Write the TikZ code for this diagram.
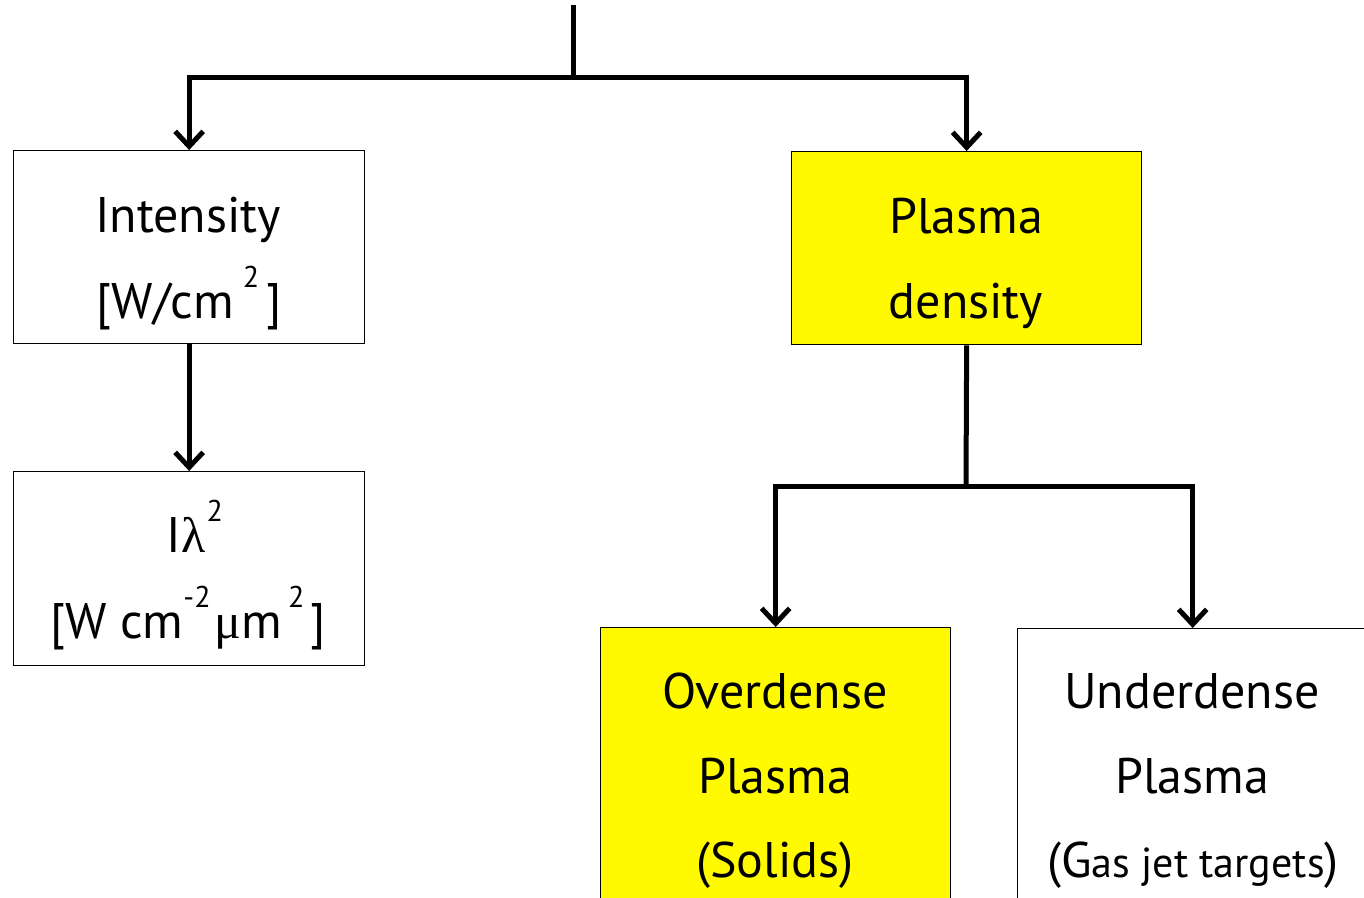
\documentclass[tikz,border=0pt]{standalone}
\usepackage{fontspec}
\setmainfont{PT Sans}
\newfontfamily\greekfont{Liberation Serif}
\usetikzlibrary{arrows.meta}
\definecolor{boxyellow}{RGB}{255,250,0}

\newcommand{\supnum}[1]{\raisebox{0.62em}{\fontsize{30}{30}\selectfont #1}}

\tikzset{
  box/.style={draw=black, line width=1.3pt, inner sep=0pt, anchor=north west},
  hibox/.style={box, fill=boxyellow},
  link/.style={line width=5pt, black},
  arrowlink/.style={link, -{Straight Barb[length=15pt, width=28pt]}},
  txt/.style={anchor=base, inner sep=0pt, font=\fontsize{50}{60}\selectfont}
}

\begin{document}
\begin{tikzpicture}[x=1pt, y=-1pt]
\useasboundingbox (0,0) rectangle (1364,897);
\clip (0,0) rectangle (1364,897);

% boxes
\node[box, minimum width=351pt, minimum height=193pt] (int) at (13,150) {};
\node[hibox, minimum width=350pt, minimum height=193pt] (pd) at (791,151) {};
\node[box, minimum width=351pt, minimum height=194pt] (ilam) at (13,471) {};
\node[hibox, minimum width=350pt, minimum height=300pt] (over) at (600,627) {};
\node[box, minimum width=350pt, minimum height=300pt] (under) at (1017,628) {};

% labels
\node[txt] (intA) at (188,232) {Intensity};
\node[txt] (intB) at (189,318) {[W/cm\hspace{9pt}\supnum{2}\hspace{7pt}]};
\node[txt] (pdA) at (966,233) {Plasma};
\node[txt] (pdB) at (966,318) {density};
\node[txt] (ilA) at (195,552) {I{\greekfont λ}\hspace{1pt}\supnum{2}};
\node[txt] (ilB) at (188,638) {[W cm\supnum{-2}\hspace{4pt}{\greekfont μ}m\hspace{6pt}\supnum{2}\hspace{6pt}]};
\node[txt] (ovA) at (775,708) {Overdense};
\node[txt] (ovB) at (775,793) {Plasma};
\node[txt] (ovC) at (775,877) {(Solids)};
\node[txt] (unA) at (1192,708) {Underdense};
\node[txt] (unB) at (1192,793) {Plasma};
\node[txt] (unC) at (1193,877) {(G{\fontsize{42}{50}\selectfont as jet targets})};

% connectors
\coordinate (top) at (573,5);
\coordinate (split) at (573,77);
\coordinate (split2) at (966,486);
\draw[link] (top) -- (split);
\draw[arrowlink] (split) -| (int.north);
\draw[arrowlink] (split) -| (pd.north);
\draw[arrowlink] (int.south) -- (ilam.north);
\draw[link] (pd.south) -- (split2);
\draw[arrowlink] (split2) -| (over.north);
\draw[arrowlink] (split2) -| (under.north);
\end{tikzpicture}
\end{document}
